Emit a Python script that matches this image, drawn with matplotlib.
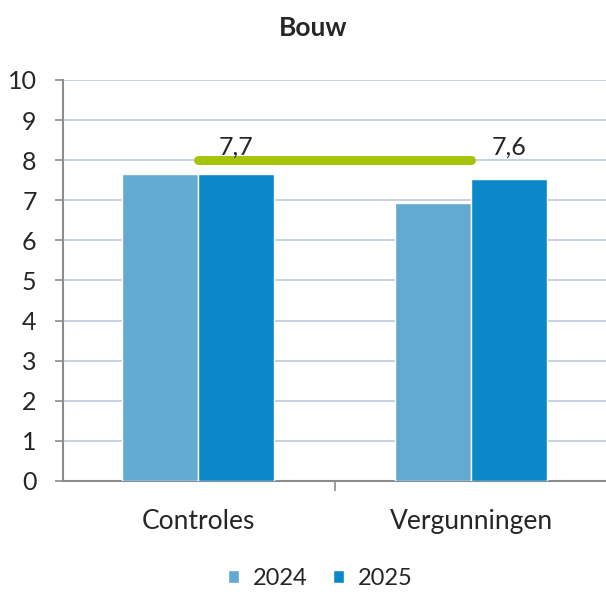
import matplotlib
matplotlib.use("Agg")
import matplotlib.pyplot as plt
import numpy as np

plt.rcParams['font.family'] = ['Lato', 'DejaVu Sans']

categories = ["Controles", "Vergunningen"]
series_names = ["2024", "2025"]
values_2024 = [7.65, 6.92]
values_2025 = [7.65, 7.53]
labels_2025 = ["7,7", "7,6"]
target = [8.0, 8.0]
yticks = list(range(0, 11))

c2024 = "#62aad2"
c2025 = "#0a88c9"
cgreen = "#a6c40a"
cgrid = "#c3cbe0"
cspine = "#8c8c8c"
ctext = "#262626"

fig = plt.figure(figsize=(6.06, 5.92), dpi=100)
ax = fig.add_axes([0.104, 0.1875, 0.896, 0.6774])

x = np.arange(len(categories))
w = 0.277
ax.bar(x - w / 2, values_2024, width=w, color=c2024, edgecolor="white", linewidth=1.0, label=series_names[0], zorder=3)
ax.bar(x + w / 2, values_2025, width=w, color=c2025, edgecolor="white", linewidth=1.0, label=series_names[1], zorder=3)

ax.plot(x, target, color=cgreen, linewidth=6.5, solid_capstyle="round", zorder=4)

for xi, lab in zip(x, labels_2025):
    ax.text(xi + w / 2, 8.32, lab, ha="center", va="center", fontsize=18, color=ctext, zorder=5)

ax.set_xlim(-0.4945, 1.4945)
ax.set_ylim(0, 10)
ax.set_yticks(yticks)
ax.set_yticklabels([str(t) for t in yticks], fontsize=18, color=ctext)
ax.yaxis.grid(True, color=cgrid, linewidth=1.3, zorder=0)
ax.set_axisbelow(True)

ax.set_xticks(x)
ax.set_xticklabels(categories, fontsize=19, color=ctext)
ax.tick_params(axis="x", length=0, pad=20)
ax.set_xticks([0.5], minor=True)
ax.tick_params(axis="x", which="minor", length=7, color=cspine, width=1.2)
ax.tick_params(axis="y", length=6, color=cspine, width=1.2, pad=13)

for s in ["top", "right"]:
    ax.spines[s].set_visible(False)
for s in ["left", "bottom"]:
    ax.spines[s].set_color(cspine)
    ax.spines[s].set_linewidth(1.5)
for lbl in ax.get_yticklabels():
    lbl.set_clip_on(False)

fig.text(0.516, 0.953, "Bouw", ha="center", va="center", fontsize=19, fontweight="bold", color=ctext)

leg = fig.legend(loc="center", bbox_to_anchor=(0.529, 0.023), ncol=2, frameon=False,
                 fontsize=17, handlelength=0.45, handleheight=0.45, handletextpad=0.6,
                 columnspacing=1.1)
for t in leg.get_texts():
    t.set_color(ctext)

fig.savefig("out.png", dpi=100)
